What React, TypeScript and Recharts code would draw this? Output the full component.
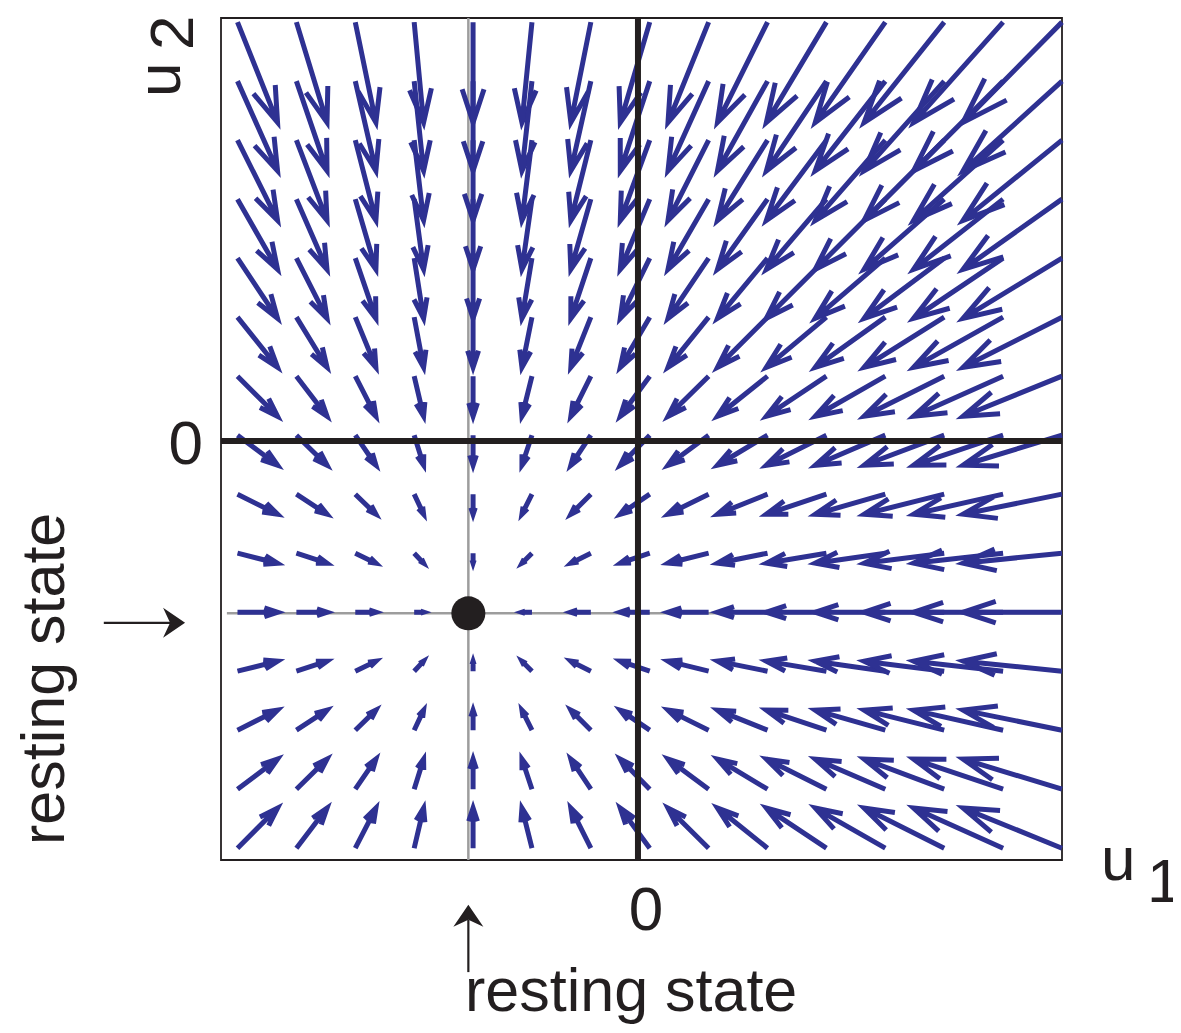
import React from "react";
import {
  ReferenceArea,
  ReferenceLine,
  Scatter,
  ScatterChart,
  XAxis,
  YAxis,
} from "recharts";

// grid positions of the arrow tails (u1 across, u2 up), in grid-step units
const u1Grid = [-6.8, -5.8, -4.8, -3.8, -2.8, -1.8, -0.8, 0.2, 1.2, 2.2, 3.2, 4.2, 5.2, 6.2, 7.2];
const u2Grid = [7.1, 6.1, 5.1, 4.1, 3.1, 2.1, 1.1, 0.1, -0.9, -1.9, -2.9, -3.9, -4.9, -5.9, -6.9];

// arrow components: du1 is the same down a column, du2 the same along a row
const du1ByColumn = [0.68, 0.52, 0.35, 0.16, 0, -0.17, -0.34, -0.5, -0.69, -0.85, -1.02, -1.19, -1.36, -1.52, -1.68];
const du2ByRow = [-1.7, -1.52, -1.36, -1.19, -1.02, -0.85, -0.68, -0.51, -0.34, -0.17, 0, 0.17, 0.34, 0.51, 0.68];

const restingState = [{ u1: -2.88, u2: -2.92 }];

const xDomain: [number, number] = [-7.08, 7.2];
const yDomain: [number, number] = [-7.1, 7.17];

const ARROW = "#2e3192";
const INK = "#231f20";
const FONT = "'Liberation Sans', Arial, Helvetica, sans-serif";

const arrows = u2Grid.flatMap((u2, row) =>
  u1Grid.map((u1, col) => ({
    id: `${row}-${col}`,
    u1,
    u2,
    du1: du1ByColumn[col],
    du2: du2ByRow[row],
  }))
).filter((a) => a.du1 !== 0 || a.du2 !== 0);

function QuiverArrow(props: any) {
  const { x1, y1, x2, y2 } = props;
  const u = x2 - x1;
  const v = y2 - y1;
  const alpha = 0.33;
  const beta = 0.33;
  const b1x = x2 - alpha * (u + beta * v);
  const b1y = y2 - alpha * (v - beta * u);
  const b2x = x2 - alpha * (u - beta * v);
  const b2y = y2 - alpha * (v + beta * u);
  return (
    <path
      d={`M${x1},${y1}L${x2},${y2}M${b1x},${b1y}L${x2},${y2}L${b2x},${b2y}`}
      fill="none"
      stroke={ARROW}
      strokeLinejoin="miter"
      style={{ strokeWidth: 5 }}
    />
  );
}

function PointerArrow(props: any) {
  const { x1, y1, x2, y2 } = props;
  const len = Math.hypot(x2 - x1, y2 - y1) || 1;
  const ux = (x2 - x1) / len;
  const uy = (y2 - y1) / len;
  const px = -uy;
  const py = ux;
  const headLen = 22;
  const halfW = 15;
  const notch = 15;
  const bx = x2 - ux * headLen;
  const by = y2 - uy * headLen;
  const nx = x2 - ux * notch;
  const ny = y2 - uy * notch;
  return (
    <g>
      <line x1={x1} y1={y1} x2={nx} y2={ny} stroke={INK} style={{ strokeWidth: 2.2 }} />
      <path
        d={`M${x2},${y2}L${bx + px * halfW},${by + py * halfW}L${nx},${ny}L${bx - px * halfW},${by - py * halfW}Z`}
        fill={INK}
      />
    </g>
  );
}

export default function App() {
  const W = 1181;
  const H = 1033;
  return (
    <div style={{ position: "relative", width: W, height: H, margin: -8 }}>
      <ScatterChart
        width={W}
        height={H}
        margin={{ top: 18, right: 119, bottom: 173, left: 221 }}
        style={{ position: "absolute", left: 0, top: 0 }}
      >
        <XAxis type="number" dataKey="u1" domain={xDomain} allowDataOverflow hide />
        <YAxis type="number" dataKey="u2" domain={yDomain} allowDataOverflow hide />

        <ReferenceLine x={restingState[0].u1} stroke="#9d9d9d" strokeWidth={2.5} ifOverflow="visible" />
        <ReferenceLine
          segment={[
            { x: -6.98, y: restingState[0].u2 },
            { x: xDomain[1], y: restingState[0].u2 },
          ]}
          stroke="#9d9d9d"
          strokeWidth={2.5}
          ifOverflow="visible"
        />

        {arrows.map((a) => (
          <ReferenceLine
            key={a.id}
            segment={[
              { x: a.u1, y: a.u2 },
              { x: a.u1 + a.du1, y: a.u2 + a.du2 },
            ]}
            ifOverflow="visible"
            shape={QuiverArrow}
          />
        ))}

        <ReferenceLine x={0} stroke={INK} strokeWidth={6} ifOverflow="visible" />
        <ReferenceLine y={0} stroke={INK} strokeWidth={6} ifOverflow="visible" />
        <ReferenceArea
          x1={xDomain[0]}
          x2={xDomain[1]}
          y1={yDomain[0]}
          y2={yDomain[1]}
          fill="none"
          fillOpacity={0}
          stroke={INK}
          strokeWidth={1.8}
          ifOverflow="visible"
        />

        {/* pointers to the resting state */}
        <ReferenceLine
          segment={[
            { x: -9.07, y: -3.08 },
            { x: -7.69, y: -3.08 },
          ]}
          ifOverflow="visible"
          shape={PointerArrow}
        />
        <ReferenceLine
          segment={[
            { x: restingState[0].u1, y: -9.0 },
            { x: restingState[0].u1, y: -7.86 },
          ]}
          ifOverflow="visible"
          shape={PointerArrow}
        />

        <Scatter
          data={restingState}
          isAnimationActive={false}
          shape={(p: any) => <circle cx={p.cx} cy={p.cy} r={17} fill={INK} />}
        />
      </ScatterChart>

      <svg
        width={W}
        height={H}
        style={{ position: "absolute", left: 0, top: 0, pointerEvents: "none" }}
        fontFamily={FONT}
        fill={INK}
      >
        <text x={203} y={464} fontSize={62} textAnchor="end">0</text>
        <text x={646} y={930} fontSize={62} textAnchor="middle">0</text>
        <text x={1101} y={880} fontSize={62}>u</text>
        <text x={1147} y={902} fontSize={62}>1</text>
        <text transform="translate(180,97) rotate(-90)" fontSize={62}>u</text>
        <text transform="translate(193,50) rotate(-90)" fontSize={62}>2</text>
        <text transform="translate(64,845) rotate(-90)" fontSize={61}>resting state</text>
        <text x={465} y={1011} fontSize={61}>resting state</text>
      </svg>
    </div>
  );
}
